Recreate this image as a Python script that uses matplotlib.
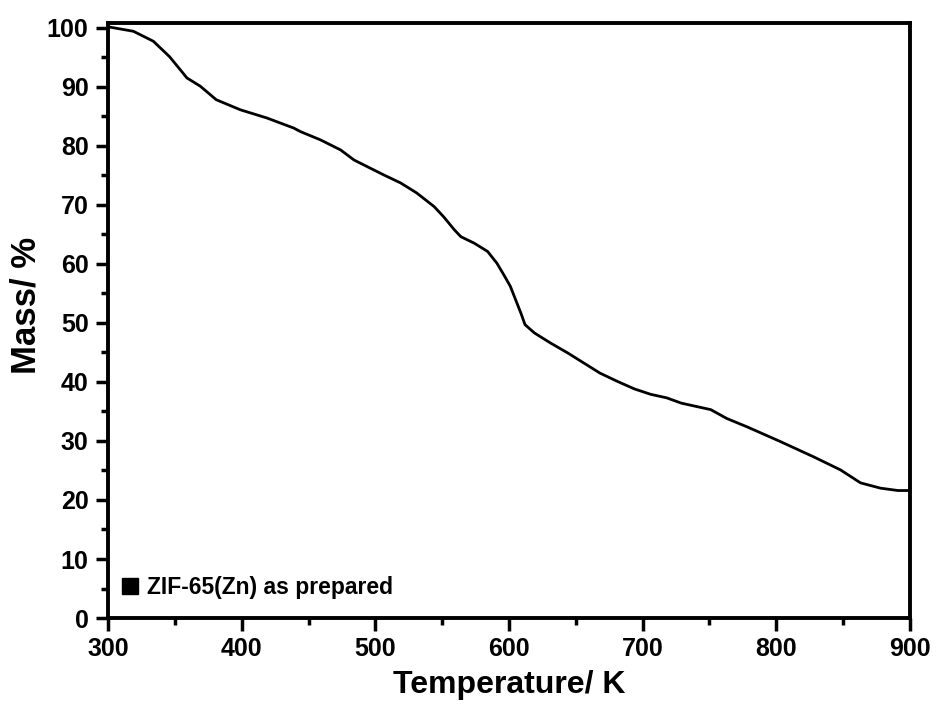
import numpy as np
import matplotlib
matplotlib.use("Agg")
import matplotlib.pyplot as plt
from matplotlib.lines import Line2D
from matplotlib.ticker import MultipleLocator

plt.rcParams['font.family'] = ['Liberation Sans', 'DejaVu Sans']
plt.rcParams['font.weight'] = 'bold'

# TGA curve
temp = [300, 301.5, 319, 334, 346, 354, 359, 369, 381, 399, 419, 439, 444,
        459, 474, 484, 506, 519, 531, 544, 551, 559, 564, 574, 584, 591, 597,
        601, 609, 612, 619, 631, 644, 656, 668, 681, 694, 706, 718, 729,
        751, 763, 778, 803, 828, 848, 863, 878, 891, 900]
mass = [100.2, 100.1, 99.4, 97.7, 95.1, 92.9, 91.5, 90.1, 87.8, 86.1, 84.7,
        83.0, 82.4, 81.0, 79.3, 77.6, 75.1, 73.7, 72.0, 69.7, 68.0, 65.8,
        64.6, 63.5, 62.1, 60.1, 57.8, 56.2, 51.6, 49.7, 48.3, 46.6, 44.9,
        43.2, 41.5, 40.1, 38.8, 37.9, 37.3, 36.4, 35.3, 33.8, 32.4, 29.9,
        27.3, 25.1, 22.9, 22.0, 21.6, 21.6]
label = 'ZIF-65(Zn) as prepared'

fig = plt.figure(figsize=(9.41, 7.06), dpi=100)
ax = fig.add_axes([0.1148, 0.1246, 0.967 - 0.1148, 0.9674 - 0.1246])

ax.plot(temp, mass, color='black', lw=2.0, solid_joinstyle='round')

ax.set_xlim(300, 900)
ax.set_ylim(0, 100.8)
ax.xaxis.set_major_locator(MultipleLocator(100))
ax.xaxis.set_minor_locator(MultipleLocator(50))
ax.yaxis.set_major_locator(MultipleLocator(10))
ax.yaxis.set_minor_locator(MultipleLocator(5))
ax.tick_params(which='major', direction='out', length=9, width=2.5, labelsize=18, pad=5)
ax.tick_params(which='minor', direction='out', length=5, width=2.5)
for s in ax.spines.values():
    s.set_linewidth(2.8)

ax.set_xlabel('Temperature/ K', fontsize=23, fontweight='bold', labelpad=6)
ax.set_ylabel('Mass/ %', fontsize=25, fontweight='bold')
ax.yaxis.set_label_coords(-0.082, 0.525)

handle = Line2D([], [], color='black', marker='s', linestyle='none', markersize=12)
ax.legend([handle], [label], loc='center left', bbox_to_anchor=(0.016, 0.052),
          frameon=False, prop={'size': 16.5, 'weight': 'bold'},
          handletextpad=0.34, handlelength=0.8, borderaxespad=0, borderpad=0)

fig.savefig('out.png', dpi=100)
